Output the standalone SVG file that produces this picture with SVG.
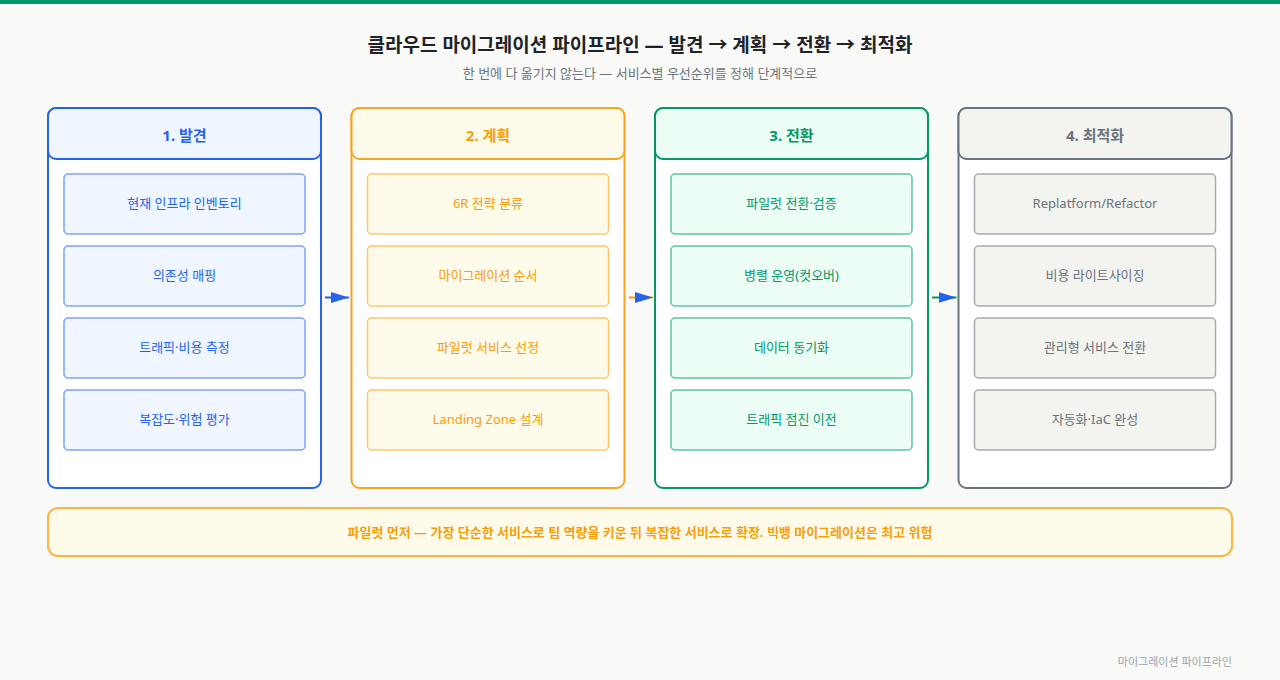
<svg xmlns="http://www.w3.org/2000/svg" width="1280" height="680" viewBox="0 0 1280 680">
<defs>
<marker id="ah" viewBox="0 0 18 11" refX="18" refY="5.5" markerWidth="18" markerHeight="11" markerUnits="userSpaceOnUse" orient="auto"><path d="M0,0 L18,5.5 L0,11 z" fill="#2563eb"/></marker>
<style>
text{font-family:"Noto Sans","Noto Sans CJK KR",sans-serif;text-anchor:middle}
.title{font-size:19px;font-weight:700;fill:#1f2328}
.sub{font-size:13px;fill:#6b7280}
.hd{font-size:15px;font-weight:700}
.ct{font-size:13px}
.col{fill:#ffffff;stroke-width:2}
.head{stroke-width:2}
.cell{stroke-width:1.5}
.b .col,.b .head{stroke:#2563eb}.b .head,.b .cell{fill:#eff6ff}.b .cell{stroke:#7ea3f4}.b text{fill:#2563eb}
.o .col,.o .head{stroke:#f5a524}.o .head,.o .cell{fill:#fffbeb}.o .cell{stroke:#f9c76e}.o text{fill:#f59e0b}
.g .col,.g .head{stroke:#059669}.g .head,.g .cell{fill:#ecfdf5}.g .cell{stroke:#62c3a1}.g text{fill:#059669}
.s .col,.s .head{stroke:#6b7280}.s .head,.s .cell{fill:#f3f4ef}.s .cell{stroke:#a6aab2}.s text{fill:#6b7280}
.conn line{stroke-width:2}
</style>
</defs>
<rect x="0" y="0" width="1280" height="680" fill="#f9faf7"/>
<rect x="0" y="0" width="1280" height="4" fill="#059669"/>
<text class="title" x="640" y="52">클라우드 마이그레이션 파이프라인 — 발견 → 계획 → 전환 → 최적화</text>
<text class="sub" x="640" y="78">한 번에 다 옮기지 않는다 — 서비스별 우선순위를 정해 단계적으로</text>

<g id="col1" class="b">
<rect class="col" x="48" y="108" width="273" height="380" rx="8"/>
<rect class="head" x="48" y="108" width="273" height="51" rx="8"/>
<text class="hd" x="184.5" y="141">1. 발견</text>
<rect class="cell" x="64" y="174" width="241" height="60" rx="4"/><text class="ct" x="184.5" y="208">현재 인프라 인벤토리</text>
<rect class="cell" x="64" y="246" width="241" height="60" rx="4"/><text class="ct" x="184.5" y="280">의존성 매핑</text>
<rect class="cell" x="64" y="318" width="241" height="60" rx="4"/><text class="ct" x="184.5" y="352">트래픽·비용 측정</text>
<rect class="cell" x="64" y="390" width="241" height="60" rx="4"/><text class="ct" x="184.5" y="424">복잡도·위험 평가</text>
</g>

<g id="col2" class="o">
<rect class="col" x="351.5" y="108" width="273" height="380" rx="8"/>
<rect class="head" x="351.5" y="108" width="273" height="51" rx="8"/>
<text class="hd" x="488" y="141">2. 계획</text>
<rect class="cell" x="367.5" y="174" width="241" height="60" rx="4"/><text class="ct" x="488" y="208">6R 전략 분류</text>
<rect class="cell" x="367.5" y="246" width="241" height="60" rx="4"/><text class="ct" x="488" y="280">마이그레이션 순서</text>
<rect class="cell" x="367.5" y="318" width="241" height="60" rx="4"/><text class="ct" x="488" y="352">파일럿 서비스 선정</text>
<rect class="cell" x="367.5" y="390" width="241" height="60" rx="4"/><text class="ct" x="488" y="424">Landing Zone 설계</text>
</g>

<g id="col3" class="g">
<rect class="col" x="655" y="108" width="273" height="380" rx="8"/>
<rect class="head" x="655" y="108" width="273" height="51" rx="8"/>
<text class="hd" x="791.5" y="141">3. 전환</text>
<rect class="cell" x="671" y="174" width="241" height="60" rx="4"/><text class="ct" x="791.5" y="208">파일럿 전환·검증</text>
<rect class="cell" x="671" y="246" width="241" height="60" rx="4"/><text class="ct" x="791.5" y="280">병렬 운영(컷오버)</text>
<rect class="cell" x="671" y="318" width="241" height="60" rx="4"/><text class="ct" x="791.5" y="352">데이터 동기화</text>
<rect class="cell" x="671" y="390" width="241" height="60" rx="4"/><text class="ct" x="791.5" y="424">트래픽 점진 이전</text>
</g>

<g id="col4" class="s">
<rect class="col" x="958.5" y="108" width="273" height="380" rx="8"/>
<rect class="head" x="958.5" y="108" width="273" height="51" rx="8"/>
<text class="hd" x="1095" y="141">4. 최적화</text>
<rect class="cell" x="974.5" y="174" width="241" height="60" rx="4"/><text class="ct" x="1095" y="208">Replatform/Refactor</text>
<rect class="cell" x="974.5" y="246" width="241" height="60" rx="4"/><text class="ct" x="1095" y="280">비용 라이트사이징</text>
<rect class="cell" x="974.5" y="318" width="241" height="60" rx="4"/><text class="ct" x="1095" y="352">관리형 서비스 전환</text>
<rect class="cell" x="974.5" y="390" width="241" height="60" rx="4"/><text class="ct" x="1095" y="424">자동화·IaC 완성</text>
</g>

<g id="connectors" class="conn">
<line x1="325" y1="297.5" x2="349" y2="297.5" stroke="#2563eb" marker-end="url(#ah)"/>
<line x1="629" y1="297.5" x2="653" y2="297.5" stroke="#f59e0b" marker-end="url(#ah)"/>
<line x1="932" y1="297.5" x2="956.5" y2="297.5" stroke="#059669" marker-end="url(#ah)"/>
</g>

<g id="note">
<rect x="48" y="508" width="1184" height="48" rx="10" fill="#fffbea" stroke="#fbb540" stroke-width="2"/>
<text x="640" y="537" style="font-size:13px;font-weight:700;fill:#f59e0b">파일럿 먼저 — 가장 단순한 서비스로 팀 역량을 키운 뒤 복잡한 서비스로 확장. 빅뱅 마이그레이션은 최고 위험</text>
</g>
<text x="1232" y="666" style="font-size:11px;fill:#9ca3af;text-anchor:end">마이그레이션 파이프라인</text>
</svg>
